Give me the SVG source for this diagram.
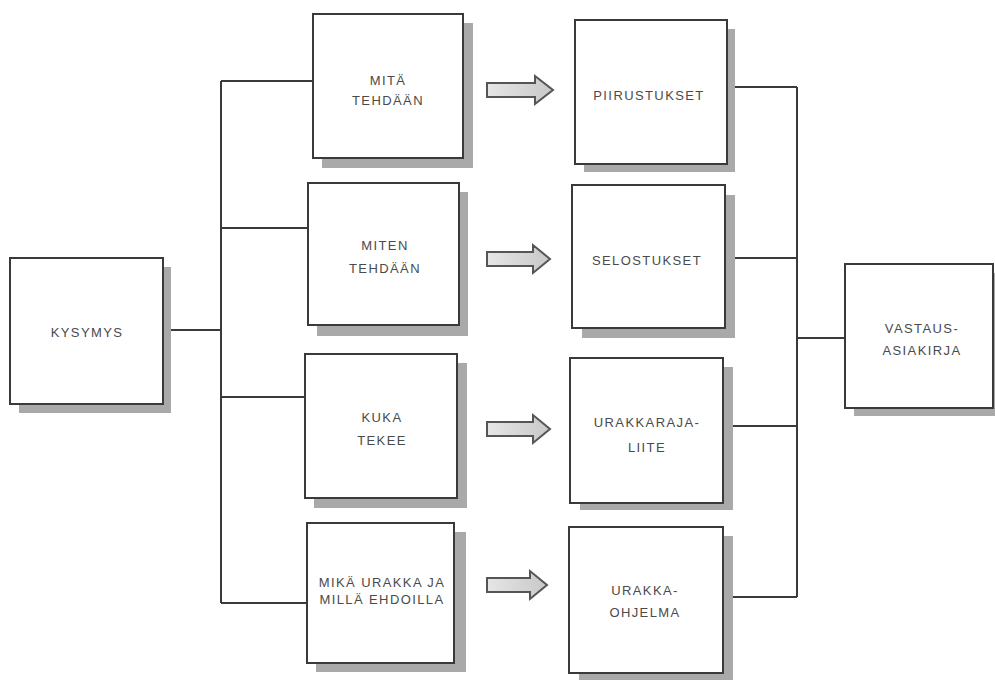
<svg xmlns="http://www.w3.org/2000/svg" width="995" height="681" viewBox="0 0 995 681">
<defs>
<linearGradient id="ag" x1="0" y1="0" x2="1" y2="0">
<stop offset="0" stop-color="#e6e6e6"/>
<stop offset="1" stop-color="#c8c8c8"/>
</linearGradient>
<style>
.sh{fill:#a9a9a9}
.bx{fill:#fff;stroke:#3a3a3a;stroke-width:2}
.t{font-family:"Liberation Sans",Arial,sans-serif;font-size:13px;fill:#4a4a4a;text-anchor:middle;letter-spacing:1.4px}
.ln{fill:none;stroke:#3a3a3a;stroke-width:2}
.ar{fill:url(#ag);stroke:#555;stroke-width:2;stroke-linejoin:miter}
</style>
</defs>
<rect width="995" height="681" fill="#fff"/>

<g id="connectors">
<polyline class="ln" points="163,330 221,330"/>
<line class="ln" x1="221" y1="81" x2="221" y2="603"/>
<line class="ln" x1="221" y1="81" x2="313" y2="81"/>
<line class="ln" x1="221" y1="228" x2="308" y2="228"/>
<line class="ln" x1="221" y1="397" x2="305" y2="397"/>
<line class="ln" x1="221" y1="603" x2="307" y2="603"/>
<line class="ln" x1="797" y1="87" x2="797" y2="597"/>
<line class="ln" x1="727" y1="87" x2="797" y2="87"/>
<line class="ln" x1="725" y1="258" x2="797" y2="258"/>
<line class="ln" x1="723" y1="426" x2="797" y2="426"/>
<line class="ln" x1="723" y1="597" x2="797" y2="597"/>
<line class="ln" x1="797" y1="338" x2="845" y2="338"/>
<path class="ar" d="M487,83 H535 V76 L553,90 L535,104 V97 H487 Z"/>
<path class="ar" d="M487,252 H533 V245 L550,259 L533,273 V266 H487 Z"/>
<path class="ar" d="M487,422 H533 V415 L550,429 L533,443 V436 H487 Z"/>
<path class="ar" d="M487,578 H530 V571 L547,585 L530,599 V592 H487 Z"/>
</g>

<g id="kysymys">
<rect class="sh" x="19" y="267" width="152" height="146"/>
<rect class="bx" x="10" y="258" width="153" height="146"/>
<text class="t" x="87" y="337">KYSYMYS</text>
</g>

<g id="mita">
<rect class="sh" x="322" y="23" width="151" height="145"/>
<rect class="bx" x="313" y="14" width="150" height="144"/>
<text class="t" x="388" y="85">MITÄ</text>
<text class="t" x="388" y="105">TEHDÄÄN</text>
</g>

<g id="miten">
<rect class="sh" x="317" y="192" width="151" height="144"/>
<rect class="bx" x="308" y="183" width="151" height="142"/>
<text class="t" x="385" y="250">MITEN</text>
<text class="t" x="385" y="273">TEHDÄÄN</text>
</g>

<g id="kuka">
<rect class="sh" x="314" y="363" width="153" height="145"/>
<rect class="bx" x="305" y="354" width="152" height="144"/>
<text class="t" x="382" y="422">KUKA</text>
<text class="t" x="382" y="445">TEKEE</text>
</g>

<g id="mika">
<rect class="sh" x="316" y="532" width="150" height="140"/>
<rect class="bx" x="307" y="523" width="147" height="140"/>
<text class="t" x="382" y="587">MIKÄ URAKKA JA</text>
<text class="t" x="382" y="604">MILLÄ EHDOILLA</text>
</g>

<g id="piirustukset">
<rect class="sh" x="584" y="29" width="151" height="143"/>
<rect class="bx" x="575" y="20" width="152" height="144"/>
<text class="t" x="649" y="100">PIIRUSTUKSET</text>
</g>

<g id="selostukset">
<rect class="sh" x="582" y="195" width="153" height="143"/>
<rect class="bx" x="572" y="185" width="153" height="143"/>
<text class="t" x="647" y="265">SELOSTUKSET</text>
</g>

<g id="urakkarajaliite">
<rect class="sh" x="580" y="367" width="153" height="143"/>
<rect class="bx" x="570" y="358" width="153" height="145"/>
<text class="t" x="647" y="427">URAKKARAJA-</text>
<text class="t" x="647" y="452">LIITE</text>
</g>

<g id="urakkaohjelma">
<rect class="sh" x="579" y="536" width="154" height="144"/>
<rect class="bx" x="569" y="527" width="154" height="146"/>
<text class="t" x="645" y="595">URAKKA-</text>
<text class="t" x="645" y="617">OHJELMA</text>
</g>

<g id="vastausasiakirja">
<rect class="sh" x="854" y="273" width="141" height="143"/>
<rect class="bx" x="845" y="264" width="148" height="144"/>
<text class="t" x="922" y="333">VASTAUS-</text>
<text class="t" x="922" y="355">ASIAKIRJA</text>
</g>
</svg>
